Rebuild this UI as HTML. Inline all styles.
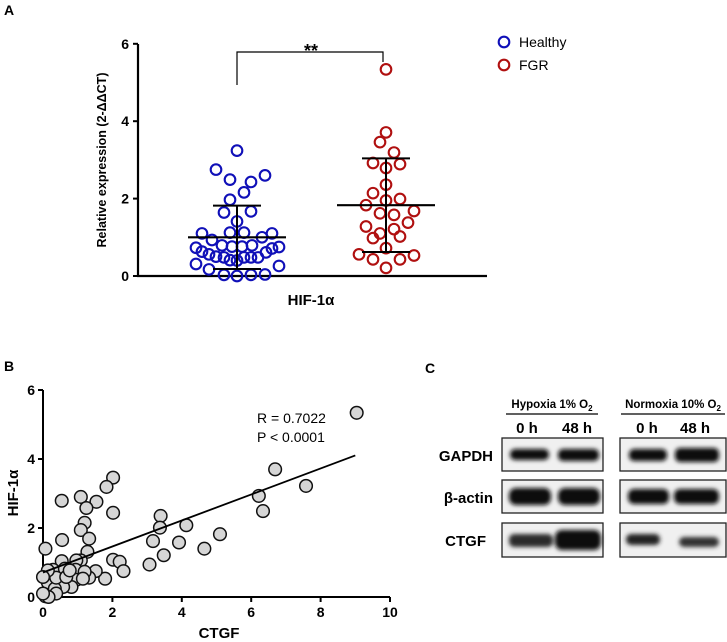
<!DOCTYPE html>
<html><head><meta charset="utf-8"><style>
body{margin:0;background:#fff;}
svg{display:block;font-family:"Liberation Sans",Arial,sans-serif;}
</style></head><body>
<svg id="fig" width="727" height="642" viewBox="0 0 727 642">
<defs><filter id="blur" x="-20%" y="-60%" width="140%" height="220%"><feGaussianBlur stdDeviation="2.2"/></filter></defs>
<text x="4" y="15" font-size="14" font-weight="bold">A</text>
<g id="pa"></g>
<text x="4" y="371" font-size="14" font-weight="bold">B</text>
<g id="pb"></g>
<text x="425" y="373" font-size="14" font-weight="bold">C</text>
<g id="pc">
  <text x="552" y="408" font-size="11.5" font-weight="bold" text-anchor="middle">Hypoxia 1% O<tspan font-size="8" dy="3">2</tspan></text>
  <line x1="506" y1="414" x2="598" y2="414" stroke="#000" stroke-width="1.2"/>
  <text x="673" y="408" font-size="11.5" font-weight="bold" text-anchor="middle">Normoxia 10% O<tspan font-size="8" dy="3">2</tspan></text>
  <line x1="621" y1="414" x2="725" y2="414" stroke="#000" stroke-width="1.2"/>
  <text x="527" y="433" font-size="15" font-weight="bold" text-anchor="middle">0 h</text>
  <text x="577" y="433" font-size="15" font-weight="bold" text-anchor="middle">48 h</text>
  <text x="647" y="433" font-size="15" font-weight="bold" text-anchor="middle">0 h</text>
  <text x="695" y="433" font-size="15" font-weight="bold" text-anchor="middle">48 h</text>
  <text x="493" y="461" font-size="15" font-weight="bold" text-anchor="end">GAPDH</text>
  <text x="493" y="503" font-size="15" font-weight="bold" text-anchor="end">β-actin</text>
  <text x="486" y="546" font-size="15" font-weight="bold" text-anchor="end">CTGF</text>
  <g stroke="#222" stroke-width="1.3" fill="#f0f0f0">
    <rect x="502" y="438" width="101" height="33"/>
    <rect x="620" y="438" width="106" height="33"/>
    <rect x="502" y="480" width="101" height="33"/>
    <rect x="620" y="480" width="106" height="33"/>
    <rect x="502" y="523" width="101" height="34"/>
    <rect x="620" y="523" width="106" height="34"/>
  </g>
  <g fill="#111" filter="url(#blur)">
    <rect x="510" y="449" width="39" height="11" rx="5"/>
    <rect x="558" y="449" width="41" height="12" rx="5"/>
    <rect x="629" y="449" width="38" height="12" rx="5"/>
    <rect x="675" y="448" width="44" height="14" rx="5"/>
    <rect x="509" y="488" width="42" height="17" rx="7"/>
    <rect x="558" y="488" width="42" height="17" rx="7"/>
    <rect x="628" y="489" width="41" height="15" rx="6"/>
    <rect x="674" y="489" width="45" height="15" rx="6"/>
    <rect x="509" y="534" width="44" height="13" rx="5" fill="#2a2a2a"/>
    <rect x="555" y="530" width="46" height="20" rx="7"/>
    <rect x="626" y="534" width="34" height="11" rx="5" fill="#222"/>
    <rect x="679" y="537" width="40" height="10" rx="5" fill="#333"/>
  </g>
</g>
</svg>
<script>
const NS="http://www.w3.org/2000/svg";
function mk(p,t,a){const e=document.createElementNS(NS,t);for(const k in a)e.setAttribute(k,a[k]);p.appendChild(e);return e;}
// ---- Panel A data ----
const aTicks=[0,2,4,6];
const healthyVals=[3.24,2.75,2.49,2.43,2.6,2.16,1.97,1.64,1.67,1.41,1.1,1.12,1.12,1.1,0.93,1.0,0.73,0.79,0.76,0.76,0.79,0.71,0.75,0.63,0.56,0.5,0.48,0.41,0.4,0.48,0.48,0.48,0.61,0.31,0.26,0.17,0.03,0,0.03,0.04];
const healthyJitter=[0,-21,-7,14,28,7,-7,-13,14,0,-35,-7,7,35,-25,25,-41,-15,-5,5,15,35,42,-35,-28,-21,-13,-7,0,7,14,21,29,-41,42,-28,-13,0,14,28];
const fgrVals=[5.34,3.71,3.46,3.19,2.92,2.89,2.79,2.36,2.14,1.99,1.95,1.83,1.62,1.58,1.68,1.38,1.28,1.1,1.21,0.98,1.02,0.72,0.56,0.53,0.43,0.43,0.21];
const fgrJitter=[0,0,-6,8,-13,14,0,0,-13,14,0,-20,-6,8,28,22,-20,-6,8,-13,14,0,-27,28,-13,14,0];
const groupMean=[1.0,1.83];
const groupSD=[0.82,1.21];
const ya=v=>276-v*38.7;
const pa=document.getElementById('pa');
let e;
e=mk(pa,'line',{x1:138,y1:44,x2:138,y2:277,stroke:'#000','stroke-width':2.2});


e=mk(pa,'line',{x1:137,y1:276,x2:487,y2:276,stroke:'#000','stroke-width':2.2});


aTicks.forEach(t=>{
  e=mk(pa,'line',{x1:133,y1:ya(t),x2:138,y2:ya(t),stroke:'#000','stroke-width':2});
  
  
  e=mk(pa,'text',{x:129,y:ya(t)+5,'font-size':14,'font-weight':'bold','text-anchor':'end'});e.textContent=t;
  
  
});
e=mk(pa,'text',{transform:'translate(106,160) rotate(-90)','font-size':12.5,'font-weight':'bold','text-anchor':'middle'});e.textContent='Relative expression (2-ΔΔCT)';


e=mk(pa,'text',{x:311,y:305,'font-size':15,'font-weight':'bold','text-anchor':'middle'});e.textContent='HIF-1α';


const centers=[237,386],cols=['#1010b8','#b01010'];
[[healthyVals,healthyJitter],[fgrVals,fgrJitter]].forEach((g,gi)=>{
  g[0].forEach((v,i)=>{
    e=mk(pa,'circle',{cx:centers[gi]+g[1][i],cy:ya(v),r:5.3,fill:'none',stroke:cols[gi],'stroke-width':2.1});
    
    
  });
  const c=centers[gi],m=groupMean[gi],s=groupSD[gi];
  e=mk(pa,'line',{x1:c-49,y1:ya(m),x2:c+49,y2:ya(m),stroke:'#000','stroke-width':2.2});
  
  
  e=mk(pa,'line',{x1:c,y1:ya(m-s),x2:c,y2:ya(m+s),stroke:'#000','stroke-width':2});
  
  
  [m-s,m+s].forEach(v=>{
    e=mk(pa,'line',{x1:c-24,y1:ya(v),x2:c+24,y2:ya(v),stroke:'#000','stroke-width':2});
    
    
  });
});
e=mk(pa,'path',{d:'M237 85 V52 H383 V62',fill:'none',stroke:'#000','stroke-width':1.2});


e=mk(pa,'text',{x:311,y:57,'font-size':18,'font-weight':'bold','text-anchor':'middle'});e.textContent='**';


[['Healthy',42],['FGR',65]].forEach((l,i)=>{
  e=mk(pa,'circle',{cx:504,cy:l[1],r:5.3,fill:'none',stroke:cols[i],'stroke-width':2.1});
  
  
  e=mk(pa,'text',{x:519,y:l[1]+5,'font-size':14});e.textContent=l[0];
  
  
});
// ---- Panel B data ----
const bxTicks=[0,2,4,6,8,10];
const byTicks=[0,2,4,6];
const ctgfVals=[9.04,6.69,7.58,6.22,6.34,4.13,3.39,3.37,3.17,3.92,5.1,4.65,3.48,3.07,2.02,1.83,2.02,1.54,1.09,1.25,0.54,1.2,1.09,1.33,0.55,0.07,1.28,2.02,2.21,2.32,1.79,1.52,1.33,1.09,0.96,0.54,0.29,0.94,0.96,0.82,0.58,0.13,0.14,0.34,0.38,0.07,0.16,0.63,0.38,0.67,1.2,0.14,0,0,0.77,1.15];
const hifVals=[5.34,3.7,3.22,2.93,2.49,2.08,2.35,2.01,1.62,1.58,1.82,1.4,1.21,0.94,3.46,3.19,2.44,2.76,2.9,2.58,2.79,2.15,1.94,1.69,1.65,1.4,1.31,1.08,1.02,0.75,0.53,0.75,0.56,1.06,1.06,1.04,0.79,0.79,0.5,0.29,0.29,0.63,0.42,0.24,0.1,0.02,0,0.82,0.56,0.58,0.73,0.77,0.58,0.1,0.77,0.53];
const fitSlope=0.377, fitIntercept=0.71, fitRange=[0,9];
const xb=v=>43+v*34.7, yb=v=>597-v*34.5;
const pb=document.getElementById('pb');
e=mk(pb,'line',{x1:43,y1:390,x2:43,y2:598,stroke:'#000','stroke-width':2});


e=mk(pb,'line',{x1:42,y1:597,x2:390,y2:597,stroke:'#000','stroke-width':2});


byTicks.forEach(t=>{
  e=mk(pb,'line',{x1:38,y1:yb(t),x2:43,y2:yb(t),stroke:'#000','stroke-width':2});
  
  
  e=mk(pb,'text',{x:35,y:yb(t)+5,'font-size':14,'font-weight':'bold','text-anchor':'end'});e.textContent=t;
  
  
});
bxTicks.forEach(t=>{
  e=mk(pb,'line',{x1:xb(t),y1:597,x2:xb(t),y2:602,stroke:'#000','stroke-width':2});
  
  
  e=mk(pb,'text',{x:xb(t),y:617,'font-size':14,'font-weight':'bold','text-anchor':'middle'});e.textContent=t;
  
  
});
e=mk(pb,'text',{transform:'translate(18,493) rotate(-90)','font-size':15,'font-weight':'bold','text-anchor':'middle'});e.textContent='HIF-1α';


e=mk(pb,'text',{x:219,y:638,'font-size':15,'font-weight':'bold','text-anchor':'middle'});e.textContent='CTGF';


ctgfVals.forEach((v,i)=>{
  e=mk(pb,'circle',{cx:xb(v),cy:yb(hifVals[i]),r:6.3,fill:'#d6d6d6',stroke:'#111','stroke-width':1.5});
  
  
});
e=mk(pb,'line',{x1:xb(fitRange[0]),y1:yb(fitIntercept+fitSlope*fitRange[0]),x2:xb(fitRange[1]),y2:yb(fitIntercept+fitSlope*fitRange[1]),stroke:'#000','stroke-width':1.8});


e=mk(pb,'text',{x:257,y:423,'font-size':14});e.textContent='R = 0.7022';


e=mk(pb,'text',{x:257,y:442,'font-size':14});e.textContent='P < 0.0001';


</script>
</body></html>
